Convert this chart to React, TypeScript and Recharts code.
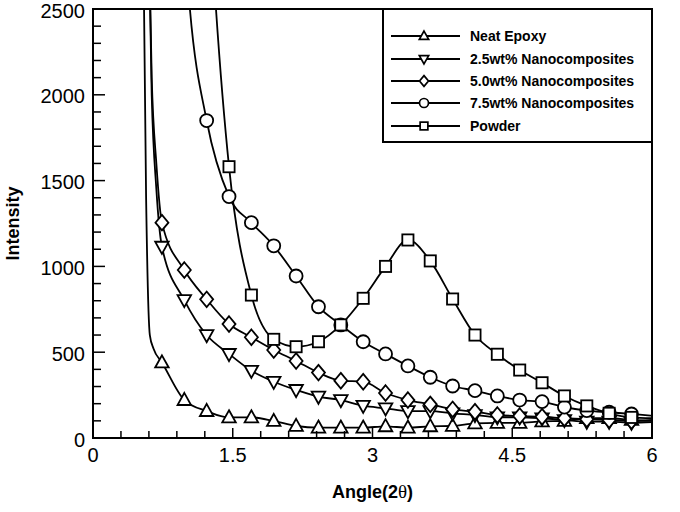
import React from 'react';
import { LineChart, Line, XAxis, YAxis, ReferenceArea, Legend } from 'recharts';

// shared angle positions of the plotted symbols
const markerX = [0.74, 0.98, 1.22, 1.46, 1.7, 1.94, 2.18, 2.42, 2.66, 2.9, 3.14, 3.38, 3.62, 3.86, 4.1, 4.34, 4.58, 4.82, 5.06, 5.3, 5.54, 5.78];

const neatLeadX = [0.53, 0.57, 0.61, 0.65];
const neatLeadY = [3400, 1400, 600, 520];
const neatY = [440, 221, 157, 120, 120, 99, 70, 60, 60, 60, 68, 60, 68, 70, 85, 88, 88, 97, 99, 115, 115, 105];

const wt25LeadX = [0.58, 0.63, 0.68];
const wt25LeadY = [3500, 2000, 1450];
const wt25Y = [1115, 804, 600, 490, 392, 328, 280, 241, 221, 188, 173, 157, 157, 144, 134, 121, 121, 115, 105, 95, 95, 89];

const wt50LeadX = [0.58, 0.63, 0.68];
const wt50LeadY = [3500, 2100, 1600];
const wt50Y = [1255, 979, 808, 664, 587, 513, 449, 381, 334, 328, 262, 221, 196, 167, 153, 134, 128, 124, 115, 109, 105, 99];

const wt75LeadX = [0.85, 1.04];
const wt75LeadY = [4200, 2500];
const wt75Y = [1850, 1407, 1255, 1120, 944, 765, 659, 561, 490, 420, 354, 303, 276, 245, 221, 212, 180, 160, 150, 140];

const powderLeadX = [1.2, 1.32];
const powderLeadY = [3600, 2500];
const powderY = [1581, 833, 575, 532, 561, 659, 814, 1000, 1154, 1032, 810, 600, 488, 396, 322, 245, 187, 144, 120];

const endX = 6;
const endY = { neat: 100, wt25: 93, wt50: 105, wt75: 130, powder: 115 };

const xTicks = [0, 0.3, 0.6, 0.9, 1.2, 1.5, 1.8, 2.1, 2.4, 2.7, 3, 3.3, 3.6, 3.9, 4.2, 4.5, 4.8, 5.1, 5.4, 5.7, 6];
const xLabels = [0, 1.5, 3, 4.5, 6];
const yTicks = [0, 100, 200, 300, 400, 500, 600, 700, 800, 900, 1000, 1100, 1200, 1300, 1400, 1500, 1600, 1700, 1800, 1900, 2000, 2100, 2200, 2300, 2400, 2500];
const yLabels = [0, 500, 1000, 1500, 2000, 2500];

const FONT = '"Liberation Sans", Arial, sans-serif';

type Pt = { x: number; y: number; m: boolean };

function build(leadX: number[], leadY: number[], markY: number[], tail: number): Pt[] {
    const markXs = markerX.slice(markerX.length - markY.length);
    return [
        ...leadX.map((x, i) => ({ x, y: leadY[i], m: false })),
        ...markXs.map((x, i) => ({ x, y: markY[i], m: true })),
        { x: endX, y: tail, m: false },
    ];
}

const SERIES = [
    { key: 'neat', name: 'Neat Epoxy', shape: 'up', data: build(neatLeadX, neatLeadY, neatY, endY.neat) },
    { key: 'wt25', name: '2.5wt% Nanocomposites', shape: 'down', data: build(wt25LeadX, wt25LeadY, wt25Y, endY.wt25) },
    { key: 'wt50', name: '5.0wt% Nanocomposites', shape: 'diamond', data: build(wt50LeadX, wt50LeadY, wt50Y, endY.wt50) },
    { key: 'wt75', name: '7.5wt% Nanocomposites', shape: 'circle', data: build(wt75LeadX, wt75LeadY, wt75Y, endY.wt75) },
    { key: 'powder', name: 'Powder', shape: 'square', data: build(powderLeadX, powderLeadY, powderY, endY.powder) },
];

function Marker({ shape, cx, cy, s, sw }: { shape: string; cx: number; cy: number; s: number; sw: number }) {
    const common = { fill: '#fff', stroke: '#000', strokeWidth: sw };
    if (shape === 'circle') return <circle cx={cx} cy={cy} r={s / 2} {...common} />;
    if (shape === 'square') return <rect x={cx - s * 0.43} y={cy - s * 0.43} width={s * 0.86} height={s * 0.86} {...common} />;
    if (shape === 'diamond')
        return <polygon points={`${cx},${cy - s * 0.6} ${cx + s * 0.5},${cy} ${cx},${cy + s * 0.6} ${cx - s * 0.5},${cy}`} {...common} />;
    if (shape === 'up')
        return <polygon points={`${cx},${cy - s * 0.55} ${cx + s * 0.52},${cy + s * 0.38} ${cx - s * 0.52},${cy + s * 0.38}`} {...common} />;
    return <polygon points={`${cx},${cy + s * 0.55} ${cx + s * 0.52},${cy - s * 0.38} ${cx - s * 0.52},${cy - s * 0.38}`} {...common} />;
}

const XTick = (props: any) => {
    const { x, y, payload } = props;
    const major = xLabels.includes(payload.value);
    return (
        <g>
            <line x1={x} y1={y} x2={x} y2={y - (major ? 10 : 7)} stroke="#000" strokeWidth={1.5} />
            {major && (
                <text x={x} y={y + 24} textAnchor="middle" fontFamily={FONT} fontSize={20} fill="#000">
                    {payload.value}
                </text>
            )}
        </g>
    );
};

const YTick = (props: any) => {
    const { x, y, payload } = props;
    const major = yLabels.includes(payload.value);
    return (
        <g>
            <line x1={x} y1={y} x2={x + (major ? 12 : 8)} y2={y} stroke="#000" strokeWidth={1.5} />
            {major && (
                <text x={x - 8} y={y} dy="0.43em" textAnchor="end" fontFamily={FONT} fontSize={20} fill="#000">
                    {payload.value}
                </text>
            )}
        </g>
    );
};

const renderLegend = () => (
    <div
        style={{
            boxSizing: 'border-box',
            width: 271,
            height: 135,
            border: '2px solid #000',
            background: '#fff',
            paddingTop: 15,
            fontFamily: FONT,
        }}
    >
        {SERIES.map((s) => (
            <div key={s.key} style={{ display: 'flex', alignItems: 'center', height: 22.4 }}>
                <svg width={86} height={16} style={{ display: 'block' }}>
                    <line x1={7} y1={8} x2={76} y2={8} stroke="#000" strokeWidth={1.8} />
                    <Marker shape={s.shape} cx={40} cy={8} s={9} sw={1.7} />
                </svg>
                <span style={{ fontSize: 14, fontWeight: 'bold', color: '#000', whiteSpace: 'nowrap' }}>{s.name}</span>
            </div>
        ))}
    </div>
);

export default function App() {
    return (
        <div style={{ position: 'absolute', left: 0, top: 0, background: '#fff' }}>
            <LineChart width={680} height={512} margin={{ top: 9, right: 28, bottom: 0, left: 0 }}>
                <XAxis
                    type="number"
                    dataKey="x"
                    domain={[0, 6]}
                    ticks={xTicks}
                    interval={0}
                    allowDataOverflow
                    height={74}
                    axisLine={false}
                    tickLine={false}
                    tickSize={0}
                    tickMargin={0}
                    tick={<XTick />}
                    label={{
                        content: (p: any) => {
                            const vb = p.viewBox;
                            return (
                                <text x={vb.x + vb.width / 2} y={vb.y + 60} textAnchor="middle" fontFamily={FONT} fontSize={18} fontWeight="bold" fill="#000">
                                    Angle(2<tspan fontFamily='"Liberation Serif", serif' fontWeight="normal" fontSize={19}>θ</tspan>)
                                </text>
                            );
                        },
                    }}
                />
                <YAxis
                    type="number"
                    domain={[0, 2500]}
                    ticks={yTicks}
                    interval={0}
                    allowDataOverflow
                    width={93}
                    axisLine={false}
                    tickLine={false}
                    tickSize={0}
                    tickMargin={0}
                    tick={<YTick />}
                    label={{
                        content: (p: any) => {
                            const vb = p.viewBox;
                            const cx = 13;
                            const cy = vb.y + vb.height / 2;
                            return (
                                <text x={cx} y={cy} transform={`rotate(-90 ${cx} ${cy})`} dy="0.35em" textAnchor="middle" fontFamily={FONT} fontSize={18} fontWeight="bold" fill="#000">
                                    Intensity
                                </text>
                            );
                        },
                    }}
                />
                {SERIES.map((s) => (
                    <Line
                        key={s.key}
                        data={s.data}
                        dataKey="y"
                        name={s.name}
                        type="monotone"
                        stroke="#000"
                        strokeWidth={1.8}
                        isAnimationActive={false}
                        legendType="none"
                        dot={(p: any) =>
                            p.payload.m ? (
                                <Marker key={`${s.key}-${p.index}`} shape={s.shape} cx={p.cx} cy={p.cy} s={13} sw={1.8} />
                            ) : (
                                <g key={`${s.key}-${p.index}`} />
                            )
                        }
                        activeDot={false}
                    />
                ))}
                <ReferenceArea x1={0} x2={6} y1={0} y2={2500} fill="none" fillOpacity={0} stroke="#000" strokeWidth={2} />
                <Legend
                    layout="vertical"
                    align="center"
                    verticalAlign="middle"
                    content={renderLegend}
                    wrapperStyle={{ left: 382, top: 8, width: 271, height: 135 }}
                />
            </LineChart>
        </div>
    );
}
